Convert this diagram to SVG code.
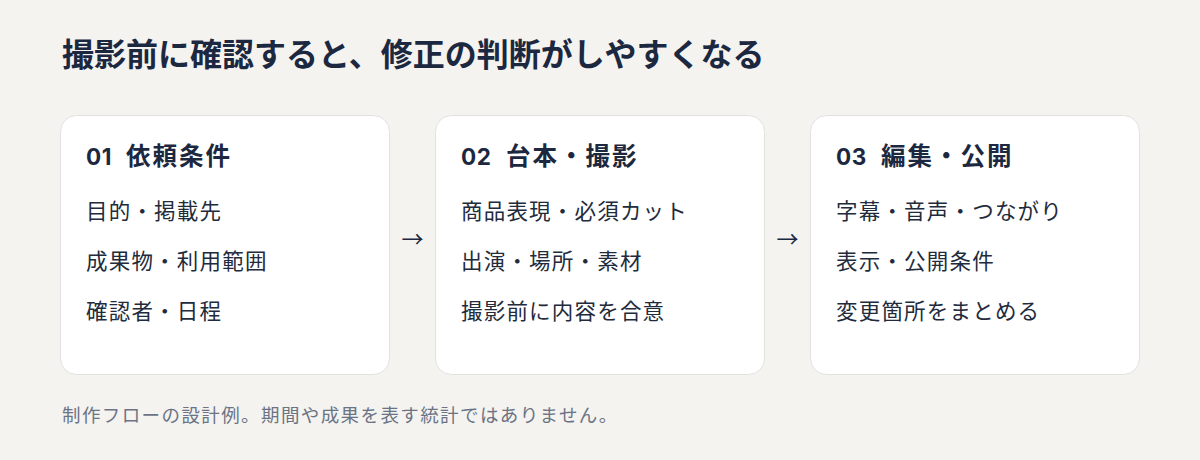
<svg xmlns="http://www.w3.org/2000/svg" width="1200" height="460" viewBox="0 0 1200 460">
<style>
.t{font-family:"Noto Sans CJK JP","Noto Sans",sans-serif;}
.title{font-size:32px;font-weight:700;fill:#1c2840;}
.card{fill:#ffffff;stroke:#e1e1df;stroke-width:1;}
.h{font-size:24.5px;font-weight:700;letter-spacing:2px;fill:#1c2840;}
.num{font-family:Inter,"Noto Sans",sans-serif;font-size:22.5px;letter-spacing:0.5px;}
.i{font-size:21.5px;letter-spacing:1.2px;fill:#222b3c;}
.arrow{font-size:22px;fill:#1c2840;}
.foot{font-size:18.5px;letter-spacing:1.4px;fill:#6b7385;}
</style>
<rect x="0" y="0" width="1200" height="460" fill="#f4f3f0"/>
<text class="t title" x="62" y="66">撮影前に確認すると、修正の判断がしやすくなる</text>
<g id="node1">
<rect class="card" x="60.5" y="115.5" width="329" height="259" rx="16"/>
<text class="t h" x="86" y="165"><tspan class="num">01</tspan><tspan x="126">依頼条件</tspan></text>
<text class="t i" x="86" y="219">目的・掲載先</text>
<text class="t i" x="86" y="269">成果物・利用範囲</text>
<text class="t i" x="86" y="319">確認者・日程</text>
</g>
<g id="node2">
<rect class="card" x="435.5" y="115.5" width="329" height="259" rx="16"/>
<text class="t h" x="461" y="165"><tspan class="num">02</tspan><tspan x="506">台本・撮影</tspan></text>
<text class="t i" x="461" y="219">商品表現・必須カット</text>
<text class="t i" x="461" y="269">出演・場所・素材</text>
<text class="t i" x="461" y="319">撮影前に内容を合意</text>
</g>
<g id="node3">
<rect class="card" x="810.5" y="115.5" width="329" height="259" rx="16"/>
<text class="t h" x="836" y="165"><tspan class="num">03</tspan><tspan x="881">編集・公開</tspan></text>
<text class="t i" x="836" y="219">字幕・音声・つながり</text>
<text class="t i" x="836" y="269">表示・公開条件</text>
<text class="t i" x="836" y="319">変更箇所をまとめる</text>
</g>
<g id="connectors">
<text class="t arrow" x="412.5" y="247" text-anchor="middle">→</text>
<text class="t arrow" x="787.5" y="247" text-anchor="middle">→</text>
</g>
<text class="t foot" x="62" y="422">制作フローの設計例。期間や成果を表す統計ではありません。</text>
</svg>
